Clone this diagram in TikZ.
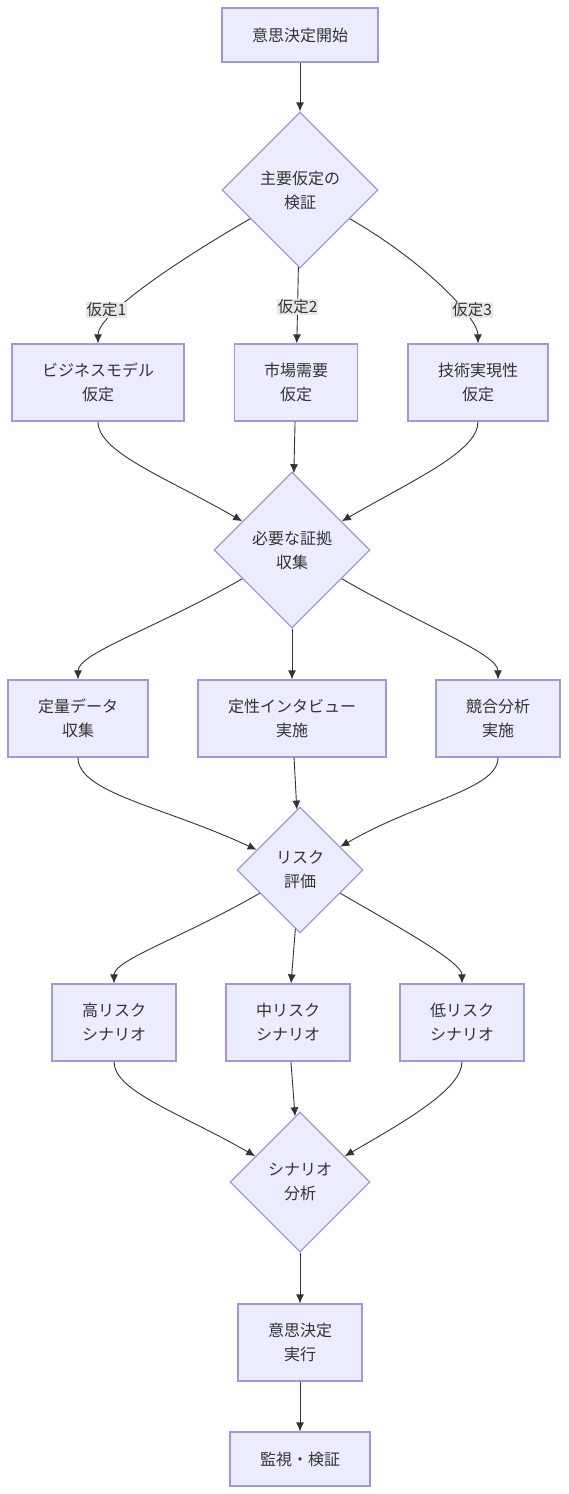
\documentclass[tikz,border=0pt]{standalone}
\usepackage{fontspec}
\setmainfont{Noto Sans CJK JP}
\usetikzlibrary{shapes.geometric, arrows.meta}
\definecolor{boxfill}{HTML}{ECECFF}
\definecolor{boxline}{HTML}{A594DE}
\definecolor{edgeline}{HTML}{333333}
\definecolor{lblfill}{HTML}{E8E8E8}
\tikzstyle{proc}=[rectangle, draw=boxline, fill=boxfill, line width=1.2pt, minimum height=77pt, inner sep=0pt, align=center, text=edgeline]
\tikzstyle{cond}=[diamond, aspect=1, draw=boxline, fill=boxfill, line width=1.2pt, inner sep=0pt, align=center, text=edgeline]
\tikzstyle{lbl}=[fill=lblfill, inner sep=1pt, text=edgeline, font=\fontsize{15.5}{17}\selectfont]
\tikzstyle{fan}=[out looseness=1.3, in looseness=0.35]
\tikzstyle{merge}=[out looseness=0.45, in looseness=1.3]

\begin{document}
\begin{tikzpicture}[x=1pt, y=1pt, >={Latex[length=9pt,width=8pt]}, font=\fontsize{16}{24}\selectfont]
                \useasboundingbox (0,0) rectangle (568,-1494);
                \node[proc, minimum width=156pt, minimum height=54pt] (start) at (300,-35) {意思決定開始};
                \node[cond, minimum size=156pt] (d1) at (300,-190) {主要仮定の\\検証};
                \node[proc, minimum width=172pt] (a1) at (98,-382.5) {ビジネスモデル\\仮定};
                \node[proc, minimum width=123pt] (a2) at (296,-382.5) {市場需要\\仮定};
                \node[proc, minimum width=140pt] (a3) at (478,-382.5) {技術実現性\\仮定};
                \node[cond, minimum size=156pt] (d2) at (292,-550) {必要な証拠\\収集};
                \node[proc, minimum width=140pt] (b1) at (78,-718.5) {定量データ\\収集};
                \node[proc, minimum width=188pt] (b2) at (292,-718.5) {定性インタビュー\\実施};
                \node[proc, minimum width=124pt] (b3) at (498,-718.5) {競合分析\\実施};
                \node[cond, minimum size=126pt] (d3) at (300,-870) {リスク\\評価};
                \node[proc, minimum width=124pt] (c1) at (114,-1022.5) {高リスク\\シナリオ};
                \node[proc, minimum width=124pt] (c2) at (288,-1022.5) {中リスク\\シナリオ};
                \node[proc, minimum width=124pt] (c3) at (462,-1022.5) {低リスク\\シナリオ};
                \node[cond, minimum size=140pt] (d4) at (300,-1182) {シナリオ\\分析};
                \node[proc, minimum width=124pt] (act) at (300,-1342.5) {意思決定\\実行};
                \node[proc, minimum width=140pt, minimum height=54pt] (mon) at (300,-1459) {監視・検証};
                \begin{scope}[draw=edgeline, line width=0.9pt]
                \draw[->] (start)--(d1);
                \draw[->] (d1) to[out=210, in=90, fan] node[lbl, pos=0.665, xshift=-12pt] {仮定1} (a1);
                \draw[->] (d1)-- node[lbl, pos=0.52] {仮定2} (a2);
                \draw[->] (d1) to[out=-30, in=90, fan] node[lbl, pos=0.665, xshift=10pt] {仮定3} (a3);
                \draw[->] (a1) to[out=-90, in=150, merge] (d2);
                \draw[->] (a2)--(d2);
                \draw[->] (a3) to[out=-90, in=30, merge]  (d2);
                \draw[->] (d2) to[out=210, in=90, fan]  (b1);
                \draw[->] (d2)--(b2);
                \draw[->] (d2) to[out=-30, in=90, fan]  (b3);
                \draw[->] (b1) to[out=-90, in=155, merge] (d3);
                \draw[->] (b2)--(d3);
                \draw[->] (b3) to[out=-90, in=30, merge]  (d3);
                \draw[->] (d3) to[out=210, in=90, fan]  (c1);
                \draw[->] (d3)--(c2);
                \draw[->] (d3) to[out=-30, in=90, fan]  (c3);
                \draw[->] (c1) to[out=-90, in=150, merge] (d4);
                \draw[->] (c2)--(d4);
                \draw[->] (c3) to[out=-90, in=30, merge]  (d4);
                \draw[->] (d4)--(act);
                \draw[->] (act)--(mon);
                \end{scope}
            \end{tikzpicture}
\end{document}
